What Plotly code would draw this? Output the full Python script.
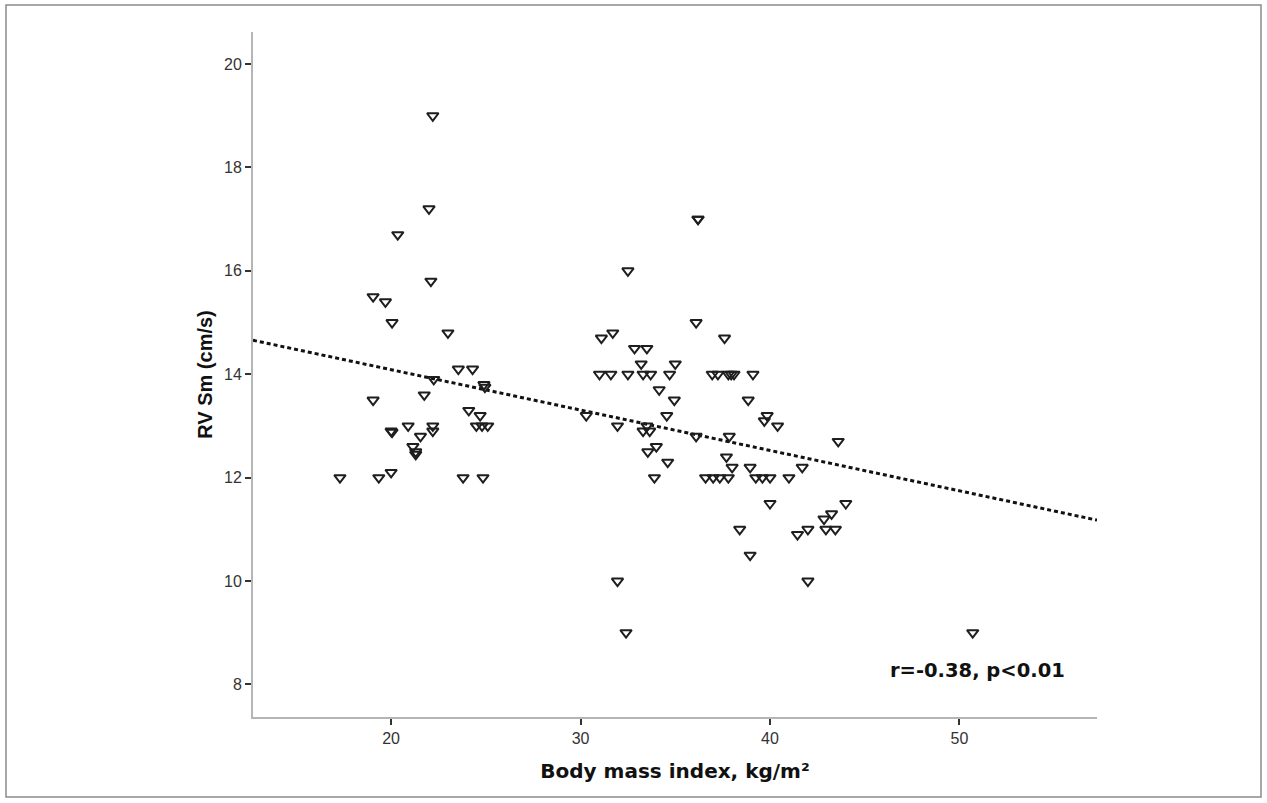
import plotly.graph_objects as go

# ---- data ----
bmi = [
    17.3, 19.05, 19.7, 20.05, 20.35, 22.0, 22.2, 22.1, 23.0, 23.55, 24.3, 22.25,
    24.9, 24.95, 19.05, 21.75, 24.1, 24.7, 24.5, 24.8, 25.1, 20.0, 20.05, 20.9,
    22.2, 22.2, 21.55, 21.15, 21.3, 21.3, 19.35, 20.0, 23.8, 24.85,
    32.5, 36.2, 36.2, 36.1, 31.1, 31.7, 37.6, 32.85, 33.5, 33.2, 35.0,
    31.0, 31.6, 32.5, 33.3, 33.7, 34.7, 36.95, 37.25, 37.8, 37.95, 38.1, 39.1,
    34.15, 34.95, 38.85, 30.3, 34.55, 31.95, 33.5, 33.3, 33.65, 36.1, 37.85,
    34.0, 33.55, 34.6, 37.7, 38.0, 38.95, 33.9, 36.6, 37.0, 37.35, 37.8,
    39.25, 39.6, 40.0, 41.0, 38.4, 38.95, 31.95, 32.4,
    39.85, 39.7, 40.4, 43.6, 41.7, 40.0, 44.0, 43.25, 42.85, 41.45, 42.0,
    42.95, 43.45, 42.0, 50.7,
]
rv_sm = [
    12.0, 15.5, 15.4, 15.0, 16.7, 17.2, 19.0, 15.8, 14.8, 14.1, 14.1, 13.9,
    13.8, 13.75, 13.5, 13.6, 13.3, 13.2, 13.0, 13.0, 13.0, 12.9, 12.88, 13.0,
    13.0, 12.9, 12.8, 12.6, 12.5, 12.45, 12.0, 12.1, 12.0, 12.0,
    16.0, 17.0, 17.0, 15.0, 14.7, 14.8, 14.7, 14.5, 14.5, 14.2, 14.2,
    14.0, 14.0, 14.0, 14.0, 14.0, 14.0, 14.0, 14.0, 14.0, 14.0, 14.0, 14.0,
    13.7, 13.5, 13.5, 13.2, 13.2, 13.0, 13.0, 12.9, 12.9, 12.8, 12.8,
    12.6, 12.5, 12.3, 12.4, 12.2, 12.2, 12.0, 12.0, 12.0, 12.0, 12.0,
    12.0, 12.0, 12.0, 12.0, 11.0, 10.5, 10.0, 9.0,
    13.2, 13.1, 13.0, 12.7, 12.2, 11.5, 11.5, 11.3, 11.2, 10.9, 11.0,
    11.0, 11.0, 10.0, 9.0,
]
fit_intercept = 15.65
fit_slope = -0.0781
x_range = [12.71, 57.26]
y_range = [7.37, 20.62]
x_ticks = [20, 30, 40, 50]
y_ticks = [8, 10, 12, 14, 16, 18, 20]
x_title = "Body mass index, kg/m²"
y_title = "RV Sm (cm/s)"
stat_text = "r=-0.38, p<0.01"
stat_pos = [50.95, 8.27]

fit_x = list(x_range)
fit_y = [fit_intercept + fit_slope * v for v in fit_x]

fig = go.Figure()
fig.add_trace(go.Scatter(
    x=fit_x, y=fit_y, mode="lines",
    line=dict(color="#111111", width=3, dash="4px,3px"),
    hoverinfo="skip", showlegend=False,
))
fig.add_trace(go.Scatter(
    x=bmi, y=rv_sm, mode="markers",
    marker=dict(symbol="triangle-down-open", size=10, color="#1e1e1e",
                line=dict(width=2, color="#1e1e1e")),
    showlegend=False,
))

W, H = 1267, 803
ml, mr, mt, mb = 253, 170, 32, 86
pw, ph = W - ml - mr, H - mt - mb

fig.update_layout(
    width=W, height=H,
    margin=dict(l=ml, r=mr, t=mt, b=mb),
    paper_bgcolor="white", plot_bgcolor="white",
    font=dict(family="Liberation Sans, Arial, sans-serif", color="#222"),
    xaxis=dict(
        range=x_range, tickvals=x_ticks, showgrid=False, zeroline=False,
        showline=True, linecolor="#b5b5b5", linewidth=2,
        ticks="outside", ticklen=6, tickwidth=1.5, tickcolor="#333",
        tickfont=dict(size=16, color="#333"),
        title=dict(text="<b>" + x_title + "</b>", standoff=18,
                   font=dict(family="DejaVu Sans, Verdana, sans-serif", size=20, color="#111")),
    ),
    yaxis=dict(
        range=y_range, tickvals=y_ticks, showgrid=False, zeroline=False,
        showline=True, linecolor="#b5b5b5", linewidth=2,
        ticks="outside", ticklen=6, tickwidth=1.5, tickcolor="#333",
        tickfont=dict(size=16, color="#333"),
        title=dict(text="<b>" + y_title + "</b>", standoff=6,
                   font=dict(family="Liberation Sans, Arial, sans-serif", size=20, color="#111")),
    ),
    annotations=[dict(
        x=stat_pos[0], y=stat_pos[1], xref="x", yref="y", text="<b>" + stat_text + "</b>",
        showarrow=False, font=dict(family="DejaVu Sans, Verdana, sans-serif", size=19.5, color="#111"),
    )],
    shapes=[dict(
        type="rect", xref="paper", yref="paper",
        x0=(6 - ml) / pw, x1=(1261 - ml) / pw,
        y0=(H - mb - 797) / ph, y1=(H - mb - 5) / ph,
        line=dict(color="#8a8a8a", width=1.5), fillcolor="rgba(0,0,0,0)", layer="below",
    )],
)

fig.write_html("out.html", config={"displayModeBar": False},
               post_script="document.body.style.margin='0';")
